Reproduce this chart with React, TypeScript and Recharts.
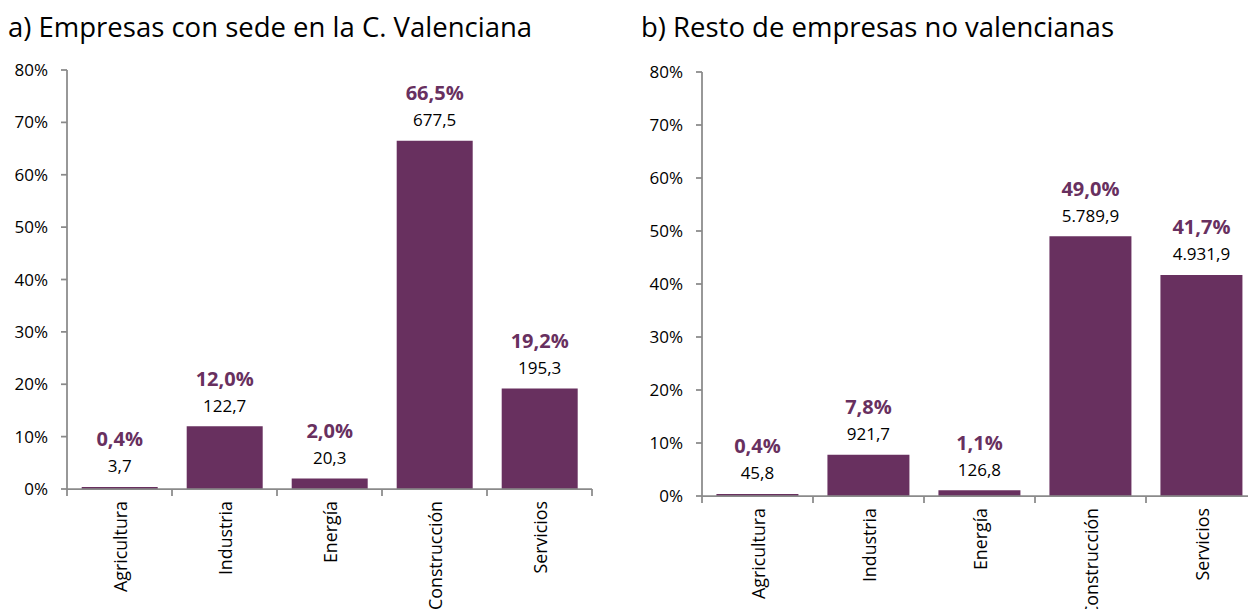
import React from 'react';
import { BarChart, Bar, XAxis, YAxis, LabelList } from 'recharts';

const categories = ['Agricultura', 'Industria', 'Energía', 'Construcción', 'Servicios'];
const valenciaPct = [0.4, 12.0, 2.0, 66.5, 19.2];
const valenciaAmt = [3.7, 122.7, 20.3, 677.5, 195.3];
const restoPct = [0.4, 7.8, 1.1, 49.0, 41.7];
const restoAmt = [45.8, 921.7, 126.8, 5789.9, 4931.9];
const yTicks = [0, 10, 20, 30, 40, 50, 60, 70, 80];
const titleA = 'a) Empresas con sede en la C. Valenciana';
const titleB = 'b) Resto de empresas no valencianas';

const FONT = '"Open Sans", "Noto Sans", sans-serif';
const PURPLE = '#68305F';
const AXIS = '#8A8A8A';

function fmtEs(v: number, dec: number): string {
  const fixed = v.toFixed(dec);
  const [int, frac] = fixed.split('.');
  const grouped = int.replace(/\B(?=(\d{3})+(?!\d))/g, '.');
  return frac ? grouped + ',' + frac : grouped;
}

function buildData(pct: number[], amt: number[]) {
  return categories.map((c, i) => ({ name: c, pct: pct[i], amt: amt[i] }));
}

const dataA = buildData(valenciaPct, valenciaAmt);
const dataB = buildData(restoPct, restoAmt);

function makeTick(band: number, count: number) {
  return (props: any) => {
    const { x, y, payload, index } = props;
    const ty = y + 12;
    return (
      <g>
        <line x1={x - band / 2} x2={x - band / 2} y1={y} y2={y + 7} stroke={AXIS} strokeWidth={1.75} />
        {index === count - 1 && (
          <line x1={x + band / 2} x2={x + band / 2} y1={y} y2={y + 7} stroke={AXIS} strokeWidth={1.75} />
        )}
        <text
          x={x}
          y={ty}
          transform={`rotate(-90, ${x}, ${ty})`}
          textAnchor="end"
          dominantBaseline="central"
          fontSize={17.8}
          fontFamily={FONT}
          fill="#000"
        >
          {payload.value}
        </text>
      </g>
    );
  };
}

function makeLabel(data: { pct: number; amt: number }[]) {
  return (props: any) => {
    const { x, y, width, index } = props;
    const cx = x + width / 2;
    const d = data[index];
    return (
      <g>
        <text x={cx} y={y - 21} textAnchor="middle" dominantBaseline="central" fontSize={17} fontFamily={FONT} fill="#000">
          {fmtEs(d.amt, 1)}
        </text>
        <text x={cx} y={y - 48} textAnchor="middle" dominantBaseline="central" fontSize={20} fontWeight="bold" fontFamily={FONT} fill={PURPLE}>
          {fmtEs(d.pct, 1) + '%'}
        </text>
      </g>
    );
  };
}

function Panel(props: {
  data: any[];
  width: number;
  top: number;
  yWidth: number;
  xHeight: number;
  right: number;
  gap: string;
}) {
  const { data, width, top, yWidth, xHeight, right, gap } = props;
  const band = (width - yWidth - right) / categories.length;
  return (
    <BarChart
      width={width}
      height={609}
      data={data}
      margin={{ top, right, left: 0, bottom: 0 }}
      barCategoryGap={gap}
    >
      <XAxis
        dataKey="name"
        interval={0}
        height={xHeight}
        tickLine={false}
        tickSize={0}
        tickMargin={0}
        axisLine={{ stroke: AXIS, strokeWidth: 1.75 }}
        tick={makeTick(band, categories.length)}
      />
      <YAxis
        width={yWidth}
        domain={[0, 80]}
        ticks={yTicks}
        interval={0}
        tickFormatter={(v: number) => v + '%'}
        tickSize={6}
        tickMargin={13}
        axisLine={{ stroke: AXIS, strokeWidth: 1.75 }}
        tickLine={{ stroke: AXIS, strokeWidth: 1.75 }}
        tick={{ fontSize: 17, fontFamily: FONT, fill: '#000' }}
      />
      <Bar dataKey="pct" fill={PURPLE} isAnimationActive={false}>
        <LabelList dataKey="pct" content={makeLabel(data)} />
      </Bar>
    </BarChart>
  );
}

export default function App() {
  return (
    <div style={{ position: 'absolute', left: 0, top: 0, width: 1248, height: 609, background: '#fff', overflow: 'hidden' }}>
      <div style={{ position: 'absolute', left: 0, top: 0 }}>
        <Panel data={dataA} width={600} top={70} yWidth={67} xHeight={120} right={8} gap="14%" />
      </div>
      <div style={{ position: 'absolute', left: 620, top: 0 }}>
        <Panel data={dataB} width={637} top={72} yWidth={82} xHeight={113} right={0} gap="13%" />
      </div>
      <svg width={1248} height={60} style={{ position: 'absolute', left: 0, top: 0 }}>
        <text x={8} y={37} fontFamily={FONT} fontSize={27.5} fill="#000">{titleA}</text>
        <text x={641} y={37} fontFamily={FONT} fontSize={27.5} fill="#000">{titleB}</text>
      </svg>
    </div>
  );
}
